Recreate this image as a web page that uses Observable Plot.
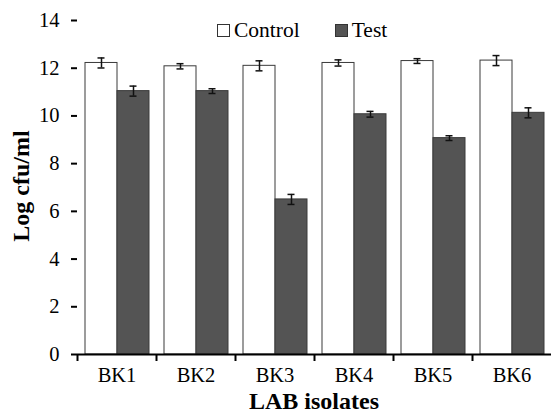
<!DOCTYPE html>
<html>
<head>
<meta charset="utf-8">
<script src="https://cdn.jsdelivr.net/npm/d3@7"></script>
<script src="https://cdn.jsdelivr.net/npm/@observablehq/plot@0.6"></script>
<style>
  html, body { margin: 0; padding: 0; background: #fff; }
  #wrap { position: relative; width: 552px; height: 414px; font-family: "Liberation Serif", "Times New Roman", serif; color: #000; }
  #wrap svg { display: block; }
  .legend { position: absolute; top: 20px; left: 217px; display: flex; align-items: center; font-size: 21.5px; line-height: 1; }
  .sw { width: 11px; height: 11px; border: 1px solid #333; box-sizing: content-box; margin-right: 4px; }
  .item { display: flex; align-items: center; }
  .xtitle { position: absolute; left: 77px; width: 474px; top: 389px; text-align: center; font-weight: bold; font-size: 24px; line-height: 1; }
  .ytitle { position: absolute; left: 21px; top: 186px; transform: translate(-50%, -50%) rotate(-90deg); font-weight: bold; font-size: 24px; line-height: 1; white-space: nowrap; }
</style>
</head>
<body>
<div id="wrap"></div>
<script>
const isolates = ["BK1", "BK2", "BK3", "BK4", "BK5", "BK6"];
const groups = ["Control", "Test"];
const controlMean = [12.22, 12.08, 12.10, 12.22, 12.30, 12.32];
const controlErr = [0.21, 0.11, 0.21, 0.13, 0.10, 0.21];
const testMean = [11.04, 11.04, 6.50, 10.07, 9.07, 10.13];
const testErr = [0.21, 0.10, 0.21, 0.12, 0.10, 0.21];
const yTicks = [0, 2, 4, 6, 8, 10, 12, 14];
const colors = ["#ffffff", "#545454"];

const data = isolates.flatMap((iso, i) => [
  {isolate: iso, group: groups[0], mean: controlMean[i], err: controlErr[i]},
  {isolate: iso, group: groups[1], mean: testMean[i], err: testErr[i]}
]);

const chart = Plot.plot({
  width: 552,
  height: 414,
  marginLeft: 77,
  marginRight: 1,
  marginTop: 20,
  marginBottom: 60,
  style: {fontFamily: "'Liberation Serif', 'Times New Roman', serif", fontSize: "20.5px", color: "#000", background: "#fff"},
  fx: {domain: isolates, padding: 0, label: null, axis: null},
  x: {domain: groups, paddingInner: 0, paddingOuter: 0.2, axis: null},
  y: {domain: [0, 14], label: null},
  color: {domain: groups, range: colors},
  marks: [
    Plot.barY(data, {fx: "isolate", x: "group", y: "mean", fill: "group", stroke: "#3a3a3a", strokeWidth: 1}),
    Plot.ruleX(data, {fx: "isolate", x: "group", y1: d => d.mean - d.err, y2: d => d.mean + d.err, stroke: "#111", strokeWidth: 1.5}),
    Plot.tickY(data, {fx: "isolate", x: "group", y: d => d.mean + d.err, insetLeft: 12.5, insetRight: 12.5, stroke: "#111", strokeWidth: 1.5}),
    Plot.tickY(data, {fx: "isolate", x: "group", y: d => d.mean - d.err, insetLeft: 12.5, insetRight: 12.5, stroke: "#111", strokeWidth: 1.5}),
    Plot.ruleY([0], {stroke: "#000", strokeWidth: 2}),
    Plot.axisY({ticks: yTicks, tickSize: 6, tickPadding: 12, tickFormat: d => d, label: null, line: true, strokeWidth: 2}),
    Plot.axisFx({anchor: "bottom", tickSize: 0, tickPadding: 13, label: null}),
    Plot.axisFx({anchor: "bottom", tickSize: 7, tickFormat: () => "", dx: -39.5, label: null, strokeWidth: 2})
  ]
});

const wrap = document.getElementById("wrap");
wrap.appendChild(chart);

const legend = document.createElement("div");
legend.className = "legend";
groups.forEach((g, i) => {
  const item = document.createElement("div");
  item.className = "item";
  item.style.marginRight = i === 0 ? "35px" : "0";
  const sw = document.createElement("div");
  sw.className = "sw";
  sw.style.background = colors[i];
  const t = document.createElement("span");
  t.textContent = g;
  item.appendChild(sw);
  item.appendChild(t);
  legend.appendChild(item);
});
wrap.appendChild(legend);

const xt = document.createElement("div");
xt.className = "xtitle";
xt.textContent = "LAB isolates";
wrap.appendChild(xt);

const yt = document.createElement("div");
yt.className = "ytitle";
yt.textContent = "Log cfu/ml";
wrap.appendChild(yt);
</script>
</body>
</html>
